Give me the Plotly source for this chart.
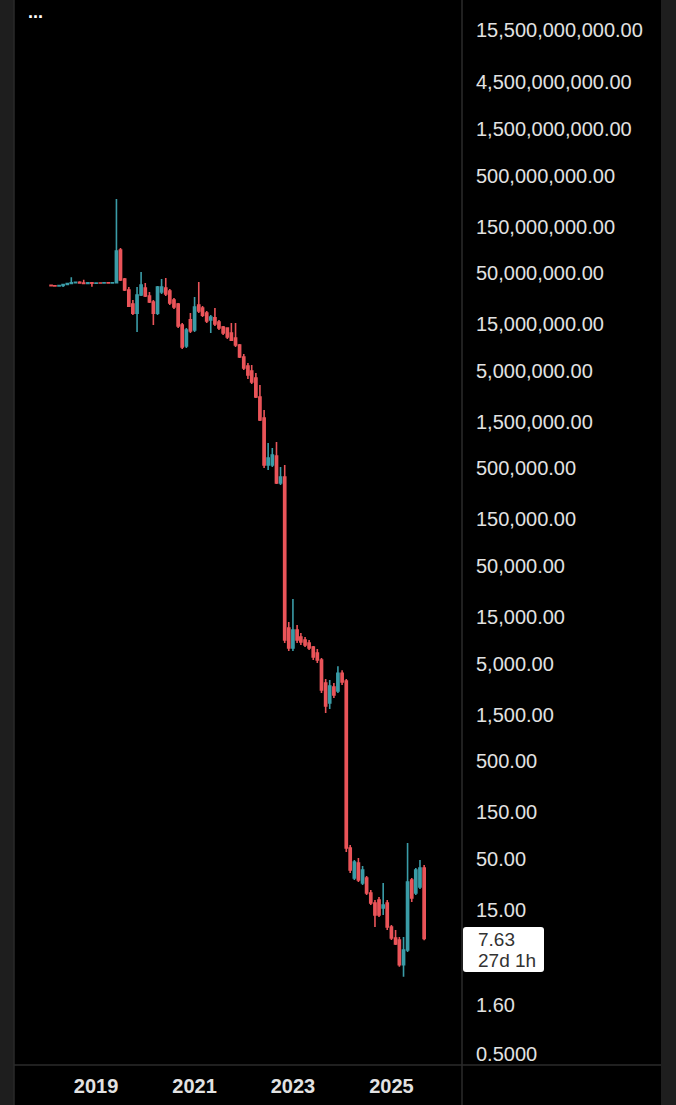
import math
import pandas as pd
import plotly.graph_objects as go

# ---------------- data (monthly candles, Feb 2018 .. Sep 2025) ----------------
months = pd.date_range("2018-02-01", periods=92, freq="MS")

open_ = [37.5e6, 37.2e6, 37.0e6, 37.4e6, 38.3e6, 39.2e6, 39.9e6, 40.3e6, 39.6e6, 39.3e6,
         39.8e6, 39.5e6, 39.7e6, 39.6e6, 39.8e6, 39.7e6, 39.9e6, 86.4e6, 43.6e6, 33.6e6,
         24.2e6, 19.5e6, 29.9e6, 35.2e6, 29.2e6, 25.3e6, 19.5e6, 32.1e6, 35.2e6, 32.8e6,
         26.5e6, 24.2e6, 14.7e6, 8.97e6, 16.6e6, 13.1e6, 23.6e6, 22.0e6, 19.5e6, 16.6e6,
         17.4e6, 15.8e6, 14.0e6, 13.7e6, 12.2e6, 10.8e6, 9.19e6, 6.92e6, 5.60e6, 4.97e6,
         4.22e6, 2.69e6, 1.64e6, 542e3, 542e3, 670e3, 354e3, 408e3, 11580, 7220,
         11040, 9360, 8725, 8130, 7395, 6420, 5440, 3162, 1973, 2878,
         2619, 3981, 3315, 64.5, 31.8, 45.3, 28.2, 31.8, 22.3, 17.6,
         18.9, 15.7, 17.6, 10.0, 7.72, 7.36, 4.10, 5.81, 30.3, 22.3,
         25.7, 40.2]
high = [38.2e6, 37.8e6, 37.6e6, 38.6e6, 39.8e6, 45.5e6, 41.0e6, 41.2e6, 42.8e6, 40.3e6,
        40.2e6, 40.0e6, 40.1e6, 40.0e6, 40.2e6, 40.3e6, 288e6, 90.5e6, 44.6e6, 36.1e6,
        26.5e6, 36.1e6, 51.4e6, 39.6e6, 32.1e6, 26.5e6, 36.9e6, 43.6e6, 44.6e6, 34.4e6,
        27.8e6, 24.7e6, 15.4e6, 13.7e6, 19.5e6, 28.5e6, 40.6e6, 23.0e6, 20.5e6, 18.6e6,
        22.0e6, 16.6e6, 14.4e6, 14.0e6, 15.4e6, 15.4e6, 9.40e6, 7.43e6, 6.00e6, 5.73e6,
        4.75e6, 3.57e6, 1.98e6, 910e3, 809e3, 932e3, 517e3, 542e3, 13340, 22950,
        12430, 10290, 9360, 8725, 7570, 7055, 5705, 3474, 3394, 3162,
        4696, 4272, 3474, 69.2, 48.6, 50.9, 42.2, 33.3, 23.9, 18.9,
        20.3, 28.2, 18.9, 10.5, 9.32, 7.91, 7.91, 72.6, 31.8, 40.2,
        48.6, 43.2]
low = [36.8e6, 36.9e6, 36.2e6, 36.1e6, 37.9e6, 38.8e6, 39.1e6, 39.4e6, 39.0e6, 38.7e6,
       36.3e6, 39.0e6, 39.3e6, 39.2e6, 39.4e6, 39.3e6, 39.3e6, 41.6e6, 32.8e6, 22.5e6,
       18.6e6, 12.5e6, 29.2e6, 28.5e6, 24.7e6, 14.7e6, 18.6e6, 30.6e6, 29.2e6, 23.6e6,
       21.5e6, 13.7e6, 8.35e6, 8.55e6, 12.2e6, 12.5e6, 19.5e6, 17.8e6, 15.4e6, 12.2e6,
       14.4e6, 13.1e6, 11.6e6, 10.6e6, 10.1e6, 8.76e6, 6.76e6, 5.09e6, 4.12e6, 3.66e6,
       2.63e6, 1.53e6, 505e3, 481e3, 517e3, 346e3, 338e3, 8130, 6730, 6730,
       8130, 7750, 7395, 6890, 5440, 5070, 2498, 1558, 1713, 2220,
       2498, 3017, 58.7, 35.8, 30.3, 28.9, 26.9, 21.3, 16.8, 10.0,
       12.7, 13.3, 9.32, 7.36, 6.55, 3.91, 3.09, 5.55, 18.0, 21.3,
       24.5, 7.30]
close = [37.2e6, 37.0e6, 37.4e6, 38.3e6, 39.2e6, 39.9e6, 40.3e6, 39.6e6, 39.3e6, 39.8e6,
         39.5e6, 39.7e6, 39.6e6, 39.8e6, 39.7e6, 39.9e6, 84.4e6, 42.6e6, 33.6e6, 23.0e6,
         19.5e6, 29.9e6, 37.8e6, 29.2e6, 25.3e6, 19.5e6, 36.1e6, 36.1e6, 30.6e6, 24.7e6,
         22.5e6, 14.4e6, 8.76e6, 13.1e6, 12.8e6, 22.5e6, 20.5e6, 18.6e6, 16.2e6, 17.8e6,
         15.1e6, 13.7e6, 12.2e6, 11.1e6, 10.3e6, 9.19e6, 6.92e6, 5.34e6, 4.53e6, 3.84e6,
         2.69e6, 1.57e6, 542e3, 639e3, 686e3, 354e3, 408e3, 8725, 7220, 11040,
         8725, 8320, 7750, 7220, 5840, 5440, 2682, 1838, 2947, 2383,
         3981, 3238, 64.5, 38.4, 46.4, 30.3, 38.4, 22.3, 17.6, 13.3,
         13.3, 16.8, 10.0, 7.72, 6.70, 4.10, 5.81, 28.9, 19.8, 38.4,
         40.2, 7.63]

ytick_vals = [15.5e9, 4.5e9, 1.5e9, 5e8, 1.5e8, 5e7, 1.5e7, 5e6, 1.5e6, 5e5, 1.5e5,
              5e4, 1.5e4, 5000, 1500, 500, 150, 50, 15, 1.6, 0.5]
ytick_text = ["15,500,000,000.00", "4,500,000,000.00", "1,500,000,000.00",
              "500,000,000.00", "150,000,000.00", "50,000,000.00", "15,000,000.00",
              "5,000,000.00", "1,500,000.00", "500,000.00", "150,000.00", "50,000.00",
              "15,000.00", "5,000.00", "1,500.00", "500.00", "150.00", "50.00", "15.00",
              "1.60", "0.5000"]
xtick_vals = ["2019-01-01", "2021-01-01", "2023-01-01", "2025-01-01"]
xtick_text = ["2019", "2021", "2023", "2025"]
countdown_label = "27d 1h"

# ---------------- styling ----------------
RED = "#ea5459"
TEAL = "#3a9ca7"
W, H = 676, 1105
ML, MR, MT, MB = 15, 214, 0, 40
PW, PH = W - ML - MR, H - MT - MB
YR = [-0.4137, 10.4977]
DPP = (YR[1] - YR[0]) / PH          # decades per pixel
FONT = "Liberation Sans, Arial, sans-serif"
GRAY = "#2b2b2b"
EDGE = "#1e1e1e"

fig = go.Figure(go.Candlestick(
    x=months, open=open_, high=high, low=low, close=close,
    increasing=dict(line=dict(color=TEAL, width=1.6), fillcolor=TEAL),
    decreasing=dict(line=dict(color=RED, width=1.6), fillcolor=RED),
    whiskerwidth=0, showlegend=False, hoverinfo="skip",
))

fig.update_layout(
    width=W, height=H,
    margin=dict(l=ML, r=MR, t=MT, b=MB, pad=0),
    paper_bgcolor="#000000", plot_bgcolor="#000000",
    showlegend=False, boxgap=0.2,
    xaxis=dict(type="date", range=["2017-05-09", "2026-06-09"],
               tickmode="array", tickvals=xtick_vals, ticktext=xtick_text,
               tickfont=dict(family=FONT, size=20, color="#e2e2e2", weight="bold"),
               showgrid=False, zeroline=False, showline=False, ticks="",
               ticklabelstandoff=7, rangeslider=dict(visible=False),
               automargin=False, fixedrange=True),
    yaxis=dict(type="log", side="right", range=YR,
               tickmode="array", tickvals=ytick_vals, ticktext=ytick_text,
               tickfont=dict(family=FONT, size=20, color="#e2e2e2"),
               showgrid=False, zeroline=False, showline=False, ticks="",
               ticklabelstandoff=13, automargin=False, fixedrange=True),
)

px = lambda p: (p - ML) / PW          # pixel x -> paper x
py = lambda p: (H - MB - p) / PH      # pixel y -> paper y

shapes = [
    dict(type="rect", xref="paper", yref="paper", x0=px(-2), x1=px(14), y0=py(H + 2), y1=py(-2),
         fillcolor=EDGE, line=dict(width=0)),
    dict(type="line", xref="paper", yref="paper", x0=px(14), x1=px(14), y0=py(H), y1=py(0),
         line=dict(color="#2a2a2a", width=1.5)),
    dict(type="rect", xref="paper", yref="paper", x0=px(661), x1=px(W + 2), y0=py(H + 2), y1=py(-2),
         fillcolor=EDGE, line=dict(width=0)),
    dict(type="line", xref="paper", yref="paper", x0=1, x1=1, y0=py(H), y1=py(0),
         line=dict(color=GRAY, width=1.5)),
    dict(type="line", xref="paper", yref="paper", x0=px(14), x1=px(661), y0=0, y1=0,
         line=dict(color=GRAY, width=1.5)),
]

# last-price label box, tied to last close (path coords on log axis are linear values)
ly = math.log10(close[-1])
bx0, bx1 = px(463), px(544)
bt, bb = ly + 11.5 * DPP, ly - 33.5 * DPP
rx, ry = 3 / PW, 3 * DPP
V = lambda l: 10 ** l
path = (f"M {bx0+rx},{V(bb)} L {bx1-rx},{V(bb)} Q {bx1},{V(bb)} {bx1},{V(bb+ry)} "
        f"L {bx1},{V(bt-ry)} Q {bx1},{V(bt)} {bx1-rx},{V(bt)} L {bx0+rx},{V(bt)} "
        f"Q {bx0},{V(bt)} {bx0},{V(bt-ry)} L {bx0},{V(bb+ry)} Q {bx0},{V(bb)} {bx0+rx},{V(bb)} Z")
shapes.append(dict(type="path", xref="paper", yref="y", path=path,
                   fillcolor="#ffffff", line=dict(width=0)))
fig.update_layout(shapes=shapes)

fig.add_annotation(xref="paper", yref="y", x=px(476), y=ly - 1.5 * DPP,
                   text=f"{close[-1]:.2f}", showarrow=False, xanchor="left", yanchor="middle",
                   font=dict(family=FONT, size=19, color="#333333"))
fig.add_annotation(xref="paper", yref="y", x=px(476), y=ly - 22.5 * DPP,
                   text=countdown_label, showarrow=False, xanchor="left", yanchor="middle",
                   font=dict(family=FONT, size=19, color="#333333"))
fig.add_annotation(xref="paper", yref="paper", x=px(35), y=py(12),
                   text="...", showarrow=False, xanchor="center", yanchor="middle",
                   font=dict(family=FONT, size=18, color="#ffffff", weight="bold"))

fig.write_html("out.html", config={"displayModeBar": False},
               post_script="document.body.style.margin='0';document.body.style.background='#000';")
